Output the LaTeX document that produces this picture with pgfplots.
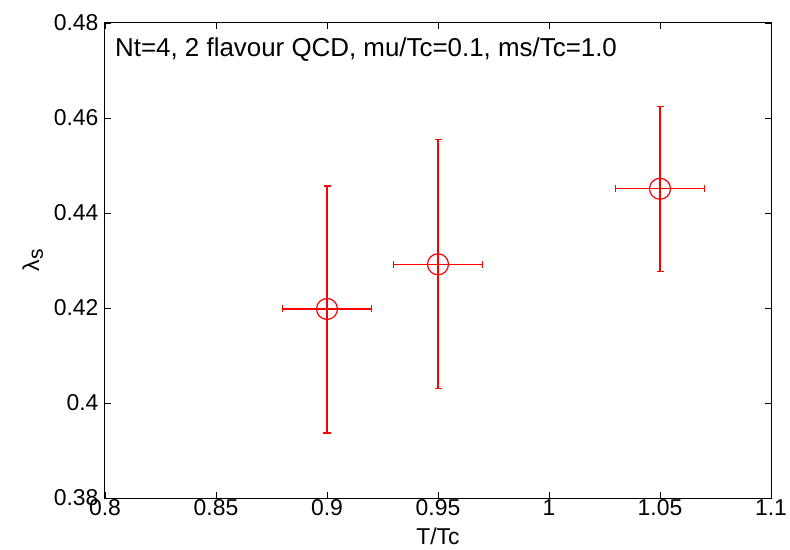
\documentclass[border=0pt]{standalone}
\usepackage{pgfplots}
\pgfplotsset{compat=1.18}
\usepackage{fontspec}
\setmainfont{Liberation Sans}
\begin{document}
\begin{tikzpicture}
\useasboundingbox (-105bp,-52bp) rectangle (685bp,498bp);
\begin{axis}[
  scale only axis,
  width=666bp, height=475bp,
  xmin=0.8, xmax=1.1, ymin=0.38, ymax=0.48,
  xtick={0.8,0.85,0.9,0.95,1,1.05,1.1},
  ytick={0.38,0.4,0.42,0.44,0.46,0.48},
  yticklabels={0.38,0.4,0.42,0.44,0.46,0.48},
  xticklabels={0.8,0.85,0.9,0.95,1,1.05,1.1},
  tick align=inside,
  major tick length=6bp,
  axis line style={line width=1bp},
  tick style={line width=0.8bp, black},
  ticklabel style={font=\fontsize{23}{23}\selectfont},
  xticklabel style={yshift=2bp},
  yticklabel style={xshift=-3bp},
  xlabel={T/Tc},
  ylabel={λ\raisebox{-0.3ex}{\fontsize{21}{21}\selectfont s}},
  label style={font=\fontsize{23}{23}\selectfont},
  xlabel style={yshift=-5bp},
  ylabel style={yshift=4bp},
  clip=false,
]
\addplot[red, line width=1.2bp, mark=o, mark size=10.5bp, only marks,
  error bars/.cd, x dir=both, y dir=both, x explicit, y explicit,
  error bar style={line width=1.2bp, red},
  error mark options={rotate=90, mark size=3.5bp, line width=1.2bp, red}]
coordinates {
  (0.90,0.4198) += (0.02,0.0259) -= (0.02,0.0261)
  (0.95,0.4292) += (0.02,0.0263) -= (0.02,0.0261)
  (1.05,0.4451) += (0.02,0.0173) -= (0.02,0.0174)
};
\node[anchor=base west, font=\fontsize{26}{26}\selectfont, inner sep=0pt]
  at (rel axis cs:0.015,0.929) {Nt=4, 2 flavour QCD, mu/Tc=0.1, ms/Tc=1.0};
\end{axis}
\end{tikzpicture}
\end{document}
